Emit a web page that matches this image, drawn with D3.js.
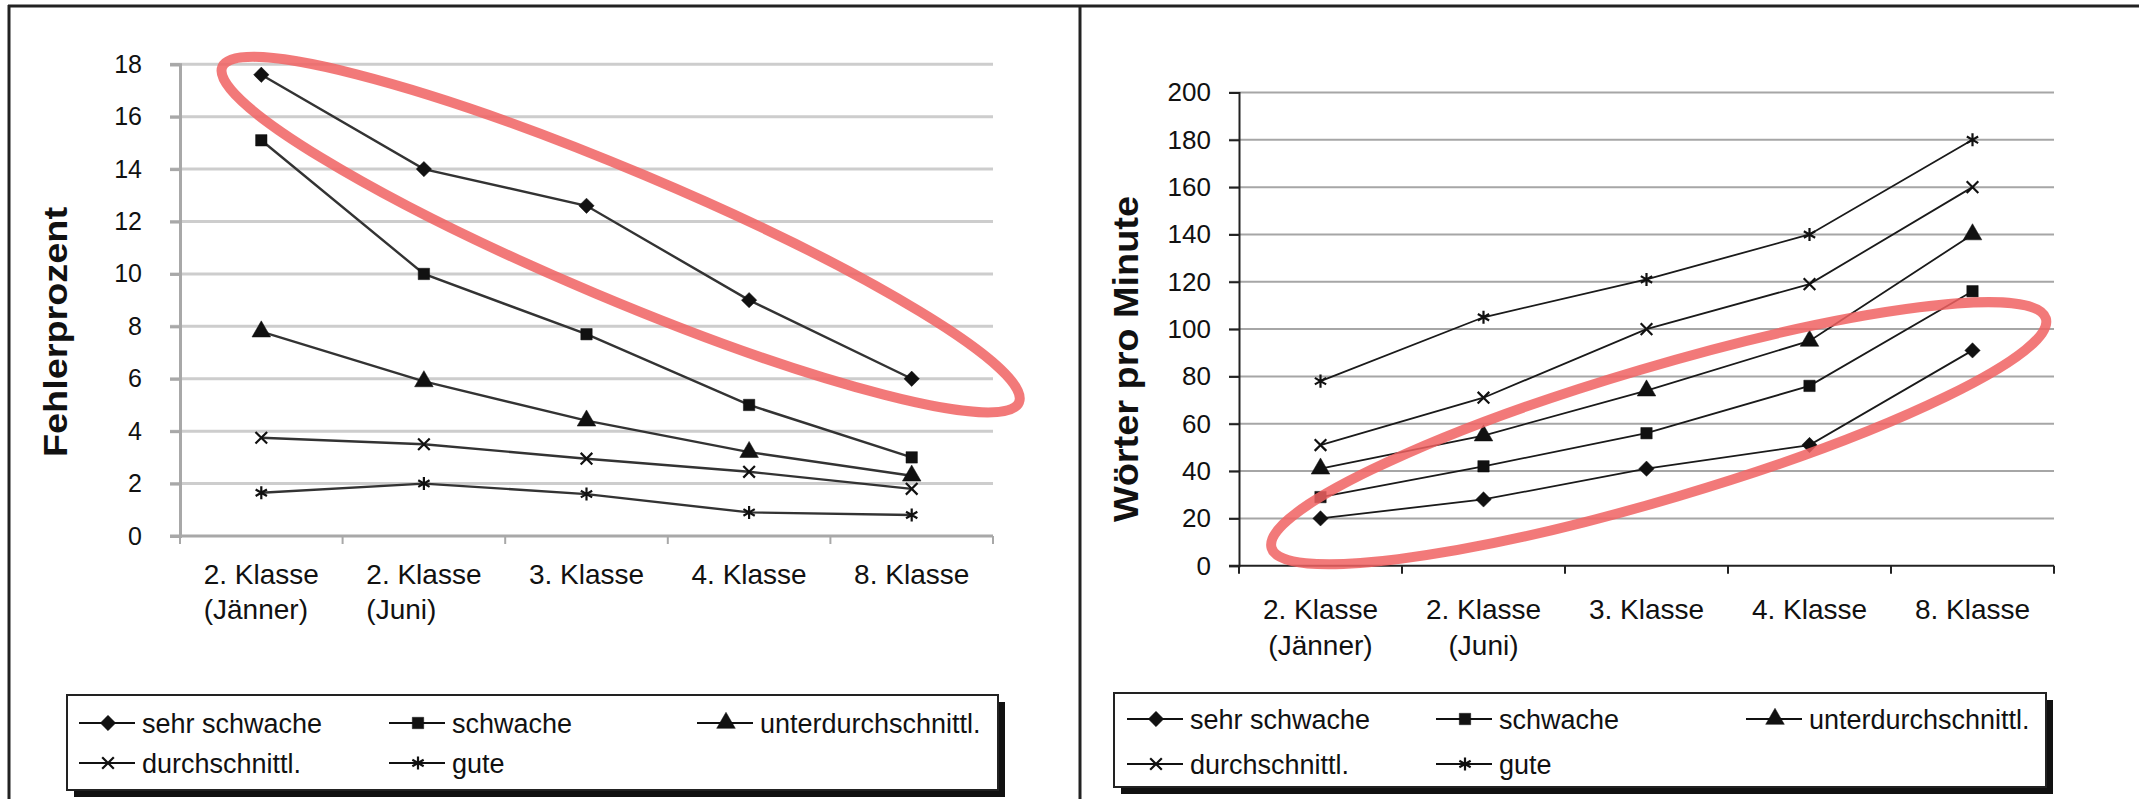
<!DOCTYPE html>
<html lang="de">
<head>
<meta charset="utf-8">
<title>Fehlerprozent und Wörter pro Minute</title>
<script src="https://cdn.jsdelivr.net/npm/d3@7"></script>
<style>
  body { margin: 0; background: #fff; }
  svg { display: block; font-family: "Liberation Sans", Arial, sans-serif; }
</style>
</head>
<body>
<svg width="2139" height="799"></svg>
<script>
// categories (two lines per label)
const categories = [
  ["2. Klasse", "(Jänner)"],
  ["2. Klasse", "(Juni)"],
  ["3. Klasse"],
  ["4. Klasse"],
  ["8. Klasse"]
];
const seriesNames = ["sehr schwache", "schwache", "unterdurchschnittl.", "durchschnittl.", "gute"];

// left chart: Fehlerprozent
const fehlerSehrSchwache = [17.6, 14.0, 12.6, 9.0, 6.0];
const fehlerSchwache     = [15.1, 10.0, 7.7, 5.0, 3.0];
const fehlerUnter        = [7.8, 5.9, 4.4, 3.2, 2.3];
const fehlerDurch        = [3.75, 3.5, 2.95, 2.45, 1.8];
const fehlerGute         = [1.65, 2.0, 1.6, 0.9, 0.8];
const fehlerTicks = [0, 2, 4, 6, 8, 10, 12, 14, 16, 18];

// right chart: Wörter pro Minute
const wpmSehrSchwache = [20, 28, 41, 51, 91];
const wpmSchwache     = [29, 42, 56, 76, 116];
const wpmUnter        = [41, 55, 74, 95, 140];
const wpmDurch        = [51, 71, 100, 119, 160];
const wpmGute         = [78, 105, 121, 140, 180];
const wpmTicks = [0, 20, 40, 60, 80, 100, 120, 140, 160, 180, 200];

// red ellipses, tips given as [band position, value]
const fehlerEllipse = [[0.26, 17.9], [5.16, 5.1]];
const wpmEllipse    = [[0.2, 7.5], [4.95, 104.5]];

const svg = d3.select("svg");
const symbols = [d3.symbolDiamond2 || d3.symbolDiamond, d3.symbolSquare, d3.symbolTriangle, d3.symbolTimes, d3.symbolAsterisk];
const symSize = [150, 130, 150, 90, 120];
const filled = [true, true, true, false, false];

function marker(sel, i, x, y) {
  sel.append("path")
    .attr("d", d3.symbol().type(symbols[i]).size(symSize[i])())
    .attr("transform", `translate(${x},${y})`)
    .attr("fill", filled[i] ? "#111" : "none")
    .attr("stroke", "#111")
    .attr("stroke-width", filled[i] ? 0.5 : 2.2);
}

// frame
svg.append("line").attr("x1", 8).attr("x2", 2139).attr("y1", 6).attr("y2", 6).attr("stroke", "#222").attr("stroke-width", 3);
svg.append("line").attr("x1", 9).attr("x2", 9).attr("y1", 5).attr("y2", 799).attr("stroke", "#222").attr("stroke-width", 3);
svg.append("line").attr("x1", 1080).attr("x2", 1080).attr("y1", 5).attr("y2", 799).attr("stroke", "#222").attr("stroke-width", 3);

function drawChart(o) {
  const g = svg.append("g");
  const x = d3.scaleBand().domain(d3.range(categories.length)).range(o.xRange);
  const y = d3.scaleLinear().domain(o.yDomain).range(o.yRange);
  const bw = x.bandwidth();
  const cx = i => x(i) + bw / 2;

  // gridlines
  g.selectAll(".grid").data(o.ticks.slice(1)).join("line")
    .attr("x1", o.xRange[0] - o.tickLen).attr("x2", o.xRange[1])
    .attr("y1", d => y(d)).attr("y2", d => y(d))
    .attr("stroke", o.gridColor).attr("stroke-width", o.gridWidth);

  // y axis
  const ya = g.append("g").attr("transform", `translate(${o.xRange[0]},0)`)
    .call(d3.axisLeft(y).tickValues(o.ticks).tickSize(o.tickLen).tickPadding(o.tickPad));
  ya.select(".domain").attr("stroke", o.axisColor).attr("stroke-width", o.axisWidth);
  ya.selectAll(".tick line").attr("stroke", o.axisColor).attr("stroke-width", o.gridWidth);
  ya.selectAll(".tick text").attr("font-size", o.tickFont).attr("fill", "#111")
    .attr("font-family", "Liberation Sans, Arial, sans-serif");

  // x axis
  const xa = g.append("g").attr("transform", `translate(0,${o.yRange[0]})`);
  xa.append("line").attr("x1", o.xRange[0] - o.tickLen).attr("x2", o.xRange[1])
    .attr("stroke", o.axisColor).attr("stroke-width", o.axisWidth);
  xa.selectAll(".xt").data(d3.range(categories.length + 1)).join("line")
    .attr("x1", d => o.xRange[0] + d * bw).attr("x2", d => o.xRange[0] + d * bw)
    .attr("y1", 0).attr("y2", 8).attr("stroke", o.axisColor).attr("stroke-width", 2);

  categories.forEach((lines, i) => {
    const t1 = g.append("text").attr("x", cx(i)).attr("y", o.labelY)
      .attr("text-anchor", "middle").attr("font-size", 28).attr("fill", "#111").text(lines[0]);
    if (lines[1]) {
      const t2 = g.append("text").attr("y", o.labelY + o.lineGap)
        .attr("font-size", 28).attr("fill", "#111").text(lines[1]);
      if (o.leftAlign) {
        const w = t1.node().getComputedTextLength();
        t2.attr("x", cx(i) - w / 2).attr("text-anchor", "start");
      } else {
        t2.attr("x", cx(i)).attr("text-anchor", "middle");
      }
    }
  });

  // y title
  const tt = g.append("text")
    .attr("transform", `translate(${o.titleX},${o.titleY}) rotate(-90)`)
    .attr("text-anchor", "middle").attr("font-weight", "bold")
    .attr("font-size", o.titleFont).attr("fill", "#111").text(o.title);
  if (o.titleLen) tt.attr("textLength", o.titleLen).attr("lengthAdjust", "spacingAndGlyphs");

  // series
  const line = d3.line().x((d, i) => cx(i)).y(d => y(d));
  o.series.forEach((vals, s) => {
    g.append("path").datum(vals).attr("d", line)
      .attr("fill", "none").attr("stroke", o.lineColor).attr("stroke-width", o.lineWidth);
  });
  o.series.forEach((vals, s) => {
    vals.forEach((v, i) => marker(g, s, cx(i), y(v)));
  });

  // ellipse
  const p = o.ellipse.map(([b, v]) => [o.xRange[0] + b * bw, y(v)]);
  const ex = (p[0][0] + p[1][0]) / 2, ey = (p[0][1] + p[1][1]) / 2;
  const rx = Math.hypot(p[1][0] - p[0][0], p[1][1] - p[0][1]) / 2;
  const ang = Math.atan2(p[1][1] - p[0][1], p[1][0] - p[0][0]) * 180 / Math.PI;
  g.append("ellipse").attr("cx", 0).attr("cy", 0).attr("rx", rx).attr("ry", o.ellipseRy)
    .attr("transform", `translate(${ex},${ey}) rotate(${ang})`)
    .attr("fill", "none").attr("stroke", "#f06262").attr("stroke-opacity", 0.85).attr("stroke-width", 10);

  // legend
  const [lx0, ly0, lx1, ly1] = o.legendBox;
  g.append("rect").attr("x", lx0 + 7).attr("y", ly0 + 7).attr("width", lx1 - lx0).attr("height", ly1 - ly0).attr("fill", "#111");
  g.append("rect").attr("x", lx0).attr("y", ly0).attr("width", lx1 - lx0).attr("height", ly1 - ly0)
    .attr("fill", "#fff").attr("stroke", "#222").attr("stroke-width", 2);
  seriesNames.forEach((name, s) => {
    const col = s % 3, row = Math.floor(s / 3);
    const x0 = o.legendCols[col], yy = o.legendRows[row];
    g.append("line").attr("x1", x0).attr("x2", x0 + 56).attr("y1", yy).attr("y2", yy)
      .attr("stroke", "#111").attr("stroke-width", 2);
    marker(g, s, x0 + 29, yy);
    g.append("text").attr("x", x0 + 63).attr("y", yy + 10).attr("font-size", 27).attr("fill", "#111").text(name);
  });
}

drawChart({
  xRange: [180, 993], yDomain: [0, 18], yRange: [536, 64.3],
  ticks: fehlerTicks, tickLen: 10, tickPad: 28, tickFont: 25,
  gridColor: "#cdcdcd", gridWidth: 3, axisColor: "#a8a8a8", axisWidth: 3,
  labelY: 584, lineGap: 35, leftAlign: true,
  title: "Fehlerprozent", titleX: 67, titleY: 332, titleFont: 34, titleLen: 250,
  series: [fehlerSehrSchwache, fehlerSchwache, fehlerUnter, fehlerDurch, fehlerGute],
  lineColor: "#333", lineWidth: 2.4,
  ellipse: fehlerEllipse, ellipseRy: 64,
  legendBox: [67, 695, 998, 790], legendCols: [79, 389, 697], legendRows: [723, 763]
});

drawChart({
  xRange: [1239, 2054], yDomain: [0, 200], yRange: [565.7, 92.5],
  ticks: wpmTicks, tickLen: 10, tickPad: 18, tickFont: 26,
  gridColor: "#a6a6a6", gridWidth: 2, axisColor: "#222", axisWidth: 2,
  labelY: 619, lineGap: 36, leftAlign: false,
  title: "Wörter pro Minute", titleX: 1138, titleY: 359, titleFont: 35, titleLen: 326,
  series: [wpmSehrSchwache, wpmSchwache, wpmUnter, wpmDurch, wpmGute],
  lineColor: "#1a1a1a", lineWidth: 1.8,
  ellipse: wpmEllipse, ellipseRy: 66,
  legendBox: [1114, 693, 2046, 787], legendCols: [1127, 1436, 1746], legendRows: [719, 764]
});
</script>
</body>
</html>
